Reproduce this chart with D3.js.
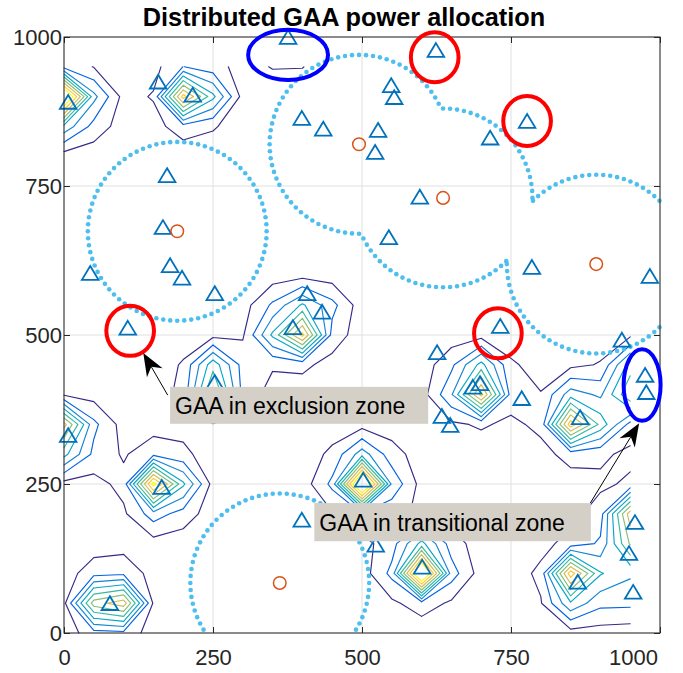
<!DOCTYPE html>
<html>
<head>
<meta charset="utf-8">
<script src="https://cdn.jsdelivr.net/npm/d3@7"></script>
<style>
  body { margin: 0; background: #fff; }
  svg { display: block; font-family: "Liberation Sans", Arial, Helvetica, sans-serif; }
</style>
</head>
<body>
<div id="chart"></div>
<script>
// GAA users: position and allocated power (0 = switched off)
const gaaX = [376, 624, 158, 216, 7, 549, 554, 399, 435, 777, 527, 522, 715, 173, 597, 166, 545, 178, 198, 44,
  253, 785, 983, 107, 408, 433, 384, 732, 626, 936, 975, 977, 253, 686, 698, 768, 634, 648, 866, 7,
  164, 502, 399, 958, 523, 948, 862, 955, 77, 601];
const gaaY = [1000, 978, 925, 903, 891, 919, 899, 864, 846, 859, 844, 807, 831, 768, 732, 681, 664, 617, 596, 604,
  570, 614, 599, 512, 570, 539, 513, 515, 471, 492, 433, 404, 421, 413, 419, 394, 364, 349, 362, 332,
  245, 257, 190, 186, 148, 134, 86, 69, 50, 111];
const gaaPower = [6.3, 0, 0, 9.5, 12, 0, 0, 0, 0, 0, 0, 0, 0, 0, 0, 0, 0, 0, 0, 0,
  0, 0, 0, 0, 0, 2, 10, 0, 0, 0, 6, 6, 8, 5, 5, 0, 0, 0, 10.5, 9,
  10.3, 12, 0, 8, 0, 3, 10, 2, 10.5, 12];

// incumbents and their exclusion zone radius
const cbsdX = [190, 495, 636, 893, 362];
const cbsdY = [674, 820, 730, 619, 84];
const zoneRadius = 150;

const xTicks = [0, 250, 500, 750, 1000];
const yTicks = [0, 250, 500, 750, 1000];

// contour levels and their parula colours
const contourLevels = [1, 2, 3, 4, 5, 6, 7, 8, 9];
const contourColors = ['#352A87', '#0363E1', '#1485D4', '#06A7C6', '#38B99E', '#87BF77', '#D1BB59', '#FEC832', '#F9FB0E'];

// highlighted users (data units)
const redRingX = [622, 777, 111, 728];
const redRingY = [966, 859, 507, 503];
const blueRingX = [376, 970];
const blueRingY = [970, 416];
const blueRingRx = [67, 31];
const blueRingRy = [42, 60];

const notes = [
  { label: 'GAA in exclusion zone', box: [178, 413, 611, 351], tail: [174, 399], tip: [133, 470] },
  { label: 'GAA in transitional zone', box: [420, 218, 884, 154], tail: [883, 218], tip: [965, 352] },
];

const width = 683;
const height = 673;
const plot = { left: 64, right: 660, top: 37, bottom: 633 };

const x = d3.scaleLinear().domain([0, 1000]).range([plot.left, plot.right]);
const y = d3.scaleLinear().domain([0, 1000]).range([plot.bottom, plot.top]);

const svg = d3.select('#chart').append('svg')
  .attr('width', width)
  .attr('height', height);

// grid lines
const grid = svg.append('g').attr('stroke', '#e0e0e0').attr('stroke-width', 1);
grid.selectAll('.gx').data(xTicks).join('line')
  .attr('x1', (d) => x(d)).attr('x2', (d) => x(d))
  .attr('y1', plot.top).attr('y2', plot.bottom);
grid.selectAll('.gy').data(yTicks).join('line')
  .attr('y1', (d) => y(d)).attr('y2', (d) => y(d))
  .attr('x1', plot.left).attr('x2', plot.right);

// received power field on a 50 m grid
const gridX = d3.range(0, 951, 50);
const gridY = d3.range(0, 951, 50);
function kernel(d) {
  return 1 / (1 + Math.pow(d / 31.5, 3));
}
const field = gridY.map((gy) => gridX.map((gx) =>
  d3.sum(gaaPower, (p, i) => p * kernel(Math.hypot(gx - gaaX[i], gy - gaaY[i])))));

// plain marching squares, open lines at the grid border like MATLAB contour
function contourSegments(level) {
  const segs = [];
  for (let j = 0; j < gridY.length - 1; j++) {
    for (let i = 0; i < gridX.length - 1; i++) {
      const c = [
        [gridX[i], gridY[j], field[j][i]],
        [gridX[i + 1], gridY[j], field[j][i + 1]],
        [gridX[i + 1], gridY[j + 1], field[j + 1][i + 1]],
        [gridX[i], gridY[j + 1], field[j + 1][i]],
      ];
      const up = c.map((p) => p[2] >= level);
      const cross = [];
      for (let e = 0; e < 4; e++) {
        const a = c[e];
        const b = c[(e + 1) % 4];
        if (up[e] !== up[(e + 1) % 4]) {
          const t = (level - a[2]) / (b[2] - a[2]);
          cross[e] = [a[0] + t * (b[0] - a[0]), a[1] + t * (b[1] - a[1])];
        }
      }
      const edges = [0, 1, 2, 3].filter((e) => cross[e]);
      if (edges.length === 2) {
        segs.push([cross[edges[0]], cross[edges[1]]]);
      } else if (edges.length === 4) {
        const centre = d3.mean(c, (p) => p[2]) >= level;
        for (let k = 0; k < 4; k++) {
          if (up[k] !== centre) segs.push([cross[(k + 3) % 4], cross[k]]);
        }
      }
    }
  }
  return segs;
}

svg.append('g').attr('class', 'contours')
  .attr('fill', 'none')
  .attr('stroke-width', 1.15)
  .attr('stroke-linecap', 'round')
  .selectAll('path')
  .data(contourLevels)
  .join('path')
  .attr('stroke', (d, i) => contourColors[i])
  .attr('d', (level) => contourSegments(level)
    .map((s) => `M${x(s[0][0])},${y(s[0][1])}L${x(s[1][0])},${y(s[1][1])}`)
    .join(''));

// exclusion zone boundary: dots on each circle that are not inside another zone
const zoneDots = [];
cbsdX.forEach((cx, i) => {
  const cy = cbsdY[i];
  d3.range(80).forEach((k) => {
    const a = (k / 80) * 2 * Math.PI;
    const px = cx + zoneRadius * Math.cos(a);
    const py = cy + zoneRadius * Math.sin(a);
    const inside = cbsdX.some((ox, j) => j !== i && Math.hypot(px - ox, py - cbsdY[j]) < zoneRadius - 0.5);
    if (!inside && px >= 0 && px <= 1000 && py >= 0 && py <= 1000) zoneDots.push([px, py]);
  });
});

svg.append('g').attr('class', 'zone')
  .selectAll('circle')
  .data(zoneDots)
  .join('circle')
  .attr('cx', (d) => x(d[0]))
  .attr('cy', (d) => y(d[1]))
  .attr('r', 2.3)
  .attr('fill', '#4DBEEE');

// GAA users
svg.append('g').attr('class', 'gaa')
  .selectAll('path')
  .data(gaaX)
  .join('path')
  .attr('transform', (d, i) => `translate(${x(d)},${y(gaaY[i])})`)
  .attr('d', 'M0,-7L8.3,6.8L-8.3,6.8Z')
  .attr('fill', 'none')
  .attr('stroke', '#0072BD')
  .attr('stroke-width', 1.8)
  .attr('stroke-linejoin', 'miter');

// incumbents
svg.append('g').attr('class', 'cbsd')
  .selectAll('circle')
  .data(cbsdX)
  .join('circle')
  .attr('cx', (d) => x(d))
  .attr('cy', (d, i) => y(cbsdY[i]))
  .attr('r', 6.3)
  .attr('fill', 'none')
  .attr('stroke', '#D95319')
  .attr('stroke-width', 1.5);

// axes box and ticks
const axisColor = '#262626';
svg.append('rect')
  .attr('x', plot.left).attr('y', plot.top)
  .attr('width', plot.right - plot.left).attr('height', plot.bottom - plot.top)
  .attr('fill', 'none').attr('stroke', axisColor).attr('stroke-width', 1);

function styleAxis(g) {
  g.select('.domain').remove();
  g.attr('color', axisColor)
    .attr('font-size', 22)
    .attr('font-family', '"Liberation Sans", Arial, Helvetica, sans-serif');
}

const xAxis = svg.append('g')
  .attr('transform', `translate(0,${plot.bottom})`)
  .call(d3.axisBottom(x).tickValues(xTicks).tickFormat(d3.format('d')).tickSize(-6).tickPadding(16))
  .call(styleAxis);
// the last label sits a little left of its tick in the original
xAxis.selectAll('.tick text').filter((d) => d === 1000).attr('dx', -27);

svg.append('g')
  .attr('transform', `translate(${plot.left},0)`)
  .call(d3.axisLeft(y).tickValues(yTicks).tickFormat(d3.format('d')).tickSize(-6).tickPadding(2))
  .call(styleAxis);

svg.append('g')
  .attr('transform', `translate(0,${plot.top})`)
  .call(d3.axisTop(x).tickValues(xTicks).tickSize(-6).tickFormat(''))
  .call(styleAxis);

svg.append('g')
  .attr('transform', `translate(${plot.right},0)`)
  .call(d3.axisRight(y).tickValues(yTicks).tickSize(-6).tickFormat(''))
  .call(styleAxis);

// title
svg.append('text')
  .attr('x', 344)
  .attr('y', 26)
  .attr('text-anchor', 'middle')
  .attr('font-size', 25.3)
  .attr('font-weight', 'bold')
  .attr('fill', '#000')
  .text('Distributed GAA power allocation');

// highlight rings
const rings = svg.append('g').attr('fill', 'none').attr('stroke-width', 4);
rings.selectAll('.red').data(redRingX).join('ellipse')
  .attr('cx', (d) => x(d))
  .attr('cy', (d, i) => y(redRingY[i]))
  .attr('rx', x(40) - x(0))
  .attr('ry', y(0) - y(42))
  .attr('stroke', '#FF0000');
rings.selectAll('.blue').data(blueRingX).join('ellipse')
  .attr('cx', (d) => x(d))
  .attr('cy', (d, i) => y(blueRingY[i]))
  .attr('rx', (d, i) => x(blueRingRx[i]) - x(0))
  .attr('ry', (d, i) => y(0) - y(blueRingRy[i]))
  .attr('stroke', '#0000FF');

// text arrows
const noteG = svg.append('g');
notes.forEach((n) => {
  const [x0, y0, x1, y1] = n.box;
  const tx = x(n.tail[0]);
  const ty = y(n.tail[1]);
  const hx = x(n.tip[0]);
  const hy = y(n.tip[1]);
  const len = Math.hypot(hx - tx, hy - ty);
  const ux = (hx - tx) / len;
  const uy = (hy - ty) / len;
  const headLen = 23;
  const notch = 16;
  const half = 9;
  const bx = hx - ux * headLen;
  const by = hy - uy * headLen;

  noteG.append('line')
    .attr('x1', tx).attr('y1', ty)
    .attr('x2', hx - ux * notch).attr('y2', hy - uy * notch)
    .attr('stroke', '#000').attr('stroke-width', 1);
  noteG.append('path')
    .attr('d', `M${hx},${hy}L${bx - uy * half},${by + ux * half}L${hx - ux * notch},${hy - uy * notch}L${bx + uy * half},${by - ux * half}Z`)
    .attr('fill', '#000');

  noteG.append('rect')
    .attr('x', x(x0)).attr('y', y(y0))
    .attr('width', x(x1) - x(x0)).attr('height', y(y1) - y(y0))
    .attr('fill', '#D4D0C8');
  noteG.append('text')
    .attr('x', x(x0) + 5)
    .attr('y', y(y1) - 10)
    .attr('font-size', 23)
    .attr('fill', '#000')
    .text(n.label);
});
</script>
</body>
</html>
